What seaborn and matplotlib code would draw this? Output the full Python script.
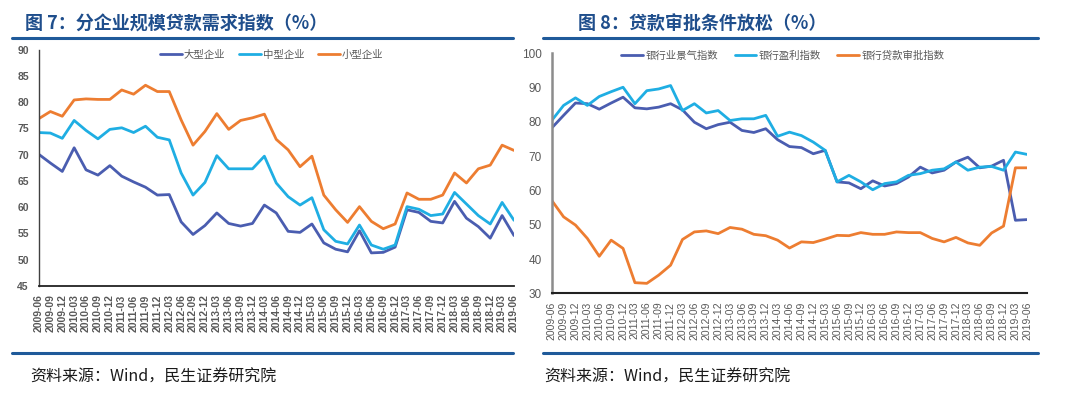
import numpy as np
import matplotlib
matplotlib.use("Agg")
import matplotlib.pyplot as plt
import seaborn as sns
from matplotlib.lines import Line2D

# quarterly observations, 2009-06 .. 2019-06
quarters = [
    "2009-06", "2009-09", "2009-12", "2010-03", "2010-06", "2010-09", "2010-12",
    "2011-03", "2011-06", "2011-09", "2011-12", "2012-03", "2012-06", "2012-09",
    "2012-12", "2013-03", "2013-06", "2013-09", "2013-12", "2014-03", "2014-06",
    "2014-09", "2014-12", "2015-03", "2015-06", "2015-09", "2015-12", "2016-03",
    "2016-06", "2016-09", "2016-12", "2017-03", "2017-06", "2017-09", "2017-12",
    "2018-03", "2018-06", "2018-09", "2018-12", "2019-03", "2019-06",
]

# Fig 7: loan demand index by firm size
large = [70.1, 68.4, 66.8, 71.3, 67.1, 66.1, 67.9, 65.9, 64.8, 63.8,
         62.3, 62.4, 57.2, 54.8, 56.5, 58.9, 56.9, 56.4, 56.9, 60.4,
         58.9, 55.4, 55.2, 56.8, 53.2, 52.0, 51.5, 55.5, 51.3, 51.4,
         52.4, 59.5, 59.0, 57.3, 57.0, 61.1, 57.9, 56.3, 54.1, 58.4, 54.6]
medium = [74.2, 74.1, 73.1, 76.5, 74.6, 73.0, 74.8, 75.1, 74.2, 75.4,
          73.3, 72.8, 66.5, 62.3, 64.7, 69.8, 67.3, 67.3, 67.3, 69.7,
          64.6, 62.0, 60.4, 61.8, 55.7, 53.5, 53.0, 56.6, 52.8, 52.0,
          52.8, 60.1, 59.6, 58.4, 58.7, 62.8, 60.6, 58.4, 56.8, 60.9, 57.5]
small = [76.8, 78.2, 77.3, 80.4, 80.6, 80.5, 80.5, 82.3, 81.5, 83.2,
         82.0, 82.0, 76.6, 71.8, 74.4, 77.8, 74.8, 76.5, 77.0, 77.7,
         72.9, 70.9, 67.7, 69.7, 62.3, 59.5, 57.1, 60.1, 57.3, 55.9,
         56.8, 62.7, 61.5, 61.5, 62.3, 66.5, 64.6, 67.3, 68.0, 71.8, 70.8]
size_names = ["大型企业", "中型企业", "小型企业"]

# Fig 8: loan approval conditions
bank_climate = [78.2, 81.9, 85.5, 85.3, 83.7, 85.5, 87.2, 84.1, 83.8, 84.3,
                85.3, 83.5, 79.9, 78.0, 79.2, 79.9, 77.5, 76.9, 78.0, 74.8,
                72.8, 72.5, 70.7, 71.7, 62.5, 62.2, 60.5, 62.8, 61.3, 62.0,
                63.9, 66.8, 65.1, 65.9, 68.3, 69.7, 66.6, 67.1, 68.8, 51.3, 51.5]
bank_profit = [80.4, 84.8, 87.0, 84.8, 87.4, 88.8, 90.1, 85.3, 89.1, 89.6,
               90.6, 83.3, 85.3, 82.6, 83.3, 80.4, 80.9, 80.9, 81.9, 75.8,
               77.0, 76.0, 74.1, 71.7, 62.5, 64.4, 62.5, 60.2, 62.0, 62.5,
               64.4, 64.9, 65.9, 66.3, 68.3, 65.9, 66.8, 67.0, 65.9, 71.2, 70.5]
loan_approval = [57.1, 52.3, 49.9, 46.0, 40.8, 45.5, 43.1, 33.1, 32.9, 35.3,
                 38.2, 45.7, 47.9, 48.2, 47.4, 49.2, 48.7, 47.2, 46.8, 45.5,
                 43.2, 45.0, 44.8, 45.8, 46.9, 46.8, 47.7, 47.2, 47.2, 47.9,
                 47.7, 47.7, 46.0, 45.0, 46.3, 44.7, 44.0, 47.6, 49.6, 66.6, 66.6]
bank_names = ["银行业景气指数", "银行盈利指数", "银行贷款审批指数"]

colors = ["#4A5DB0", "#1FAEE3", "#ED7D31"]
title_color = "#1F4E8C"
rule_color = "#1F5A9A"
tick_color = "#595959"

sns.set_style("white")
plt.rcParams["font.family"] = ["Liberation Sans", "Noto Sans CJK SC"]

W, H = 1080, 393
fig = plt.figure(figsize=(W / 100, H / 100), dpi=100)


def px_rect(x0, y0, x1, y1):
    # pixel box (top-left origin) -> figure fraction rect
    return [x0 / W, 1 - y1 / H, (x1 - x0) / W, (y1 - y0) / H]


x = np.arange(len(quarters))


def draw_panel(ax, series, names, ylim, yticks, bold, legend_x, legend_y, colsp):
    for vals, name, c in zip(series, names, colors):
        sns.lineplot(x=x, y=vals, label=name, color=c, linewidth=2.0, ax=ax)
    ax.set_xlim(0, len(quarters) - 1)
    ax.set_ylim(*ylim)
    ax.set_yticks(yticks)
    ax.set_xticks(x)
    weight = "bold" if bold else "normal"
    ax.set_xticklabels(quarters, rotation=90, fontsize=7.5, fontweight=weight, color=tick_color)
    ax.set_yticklabels([str(v) for v in yticks], fontsize=7.5 if bold else 8.5,
                       fontweight=weight, color=tick_color)
    ax.set_xlabel("")
    ax.set_ylabel("")
    ax.spines["top"].set_visible(False)
    ax.spines["right"].set_visible(False)
    ax.tick_params(axis="x", direction="out", length=4, width=1, color="#333333", pad=2)
    ax.tick_params(axis="y", direction="out", length=3, width=1, color="#555555", pad=4)
    leg = ax.legend(loc="center", bbox_to_anchor=(legend_x, legend_y), ncol=3, frameon=False,
                    fontsize=7.5, handlelength=2.1, handletextpad=0.2, columnspacing=colsp)
    for t in leg.get_texts():
        t.set_color(tick_color)
    ax.set_facecolor("white")


ax1 = fig.add_axes(px_rect(38.5, 49.5, 514, 286))
draw_panel(ax1, [large, medium, small], size_names, (45, 90), list(range(45, 91, 5)),
           True, 0.49, 0.977, 1.3)
ax1.spines["left"].set_color("#404040")
ax1.spines["left"].set_linewidth(1.0)
ax1.spines["bottom"].set_color("#222222")
ax1.spines["bottom"].set_linewidth(1.3)

ax2 = fig.add_axes(px_rect(551.7, 53.3, 1027.3, 293.3))
draw_panel(ax2, [bank_climate, bank_profit, loan_approval], bank_names, (30, 100),
           list(range(30, 101, 10)), False, 0.486, 0.989, 1.6)
ax2.spines["left"].set_color("#8C8C8C")
ax2.spines["left"].set_linewidth(1.8)
ax2.spines["bottom"].set_color("#222222")
ax2.spines["bottom"].set_linewidth(1.5)

# titles, rules and source notes
cjk = ["Noto Sans CJK SC", "DejaVu Sans"]
fig.text(25 / W, 1 - 24 / H, "图 7：分企业规模贷款需求指数（%）", fontsize=13,
         fontweight="bold", color=title_color, family=cjk, va="center")
fig.text(578 / W, 1 - 24 / H, "图 8：贷款审批条件放松（%）", fontsize=13,
         fontweight="bold", color=title_color, family=cjk, va="center")

for x0, x1 in [(12, 513), (543, 1038)]:
    for yy in (38.3, 353):
        fig.add_artist(Line2D([x0 / W, x1 / W], [1 - yy / H, 1 - yy / H],
                              transform=fig.transFigure, color=rule_color, linewidth=2.2))

fig.text(30 / W, 1 - 377 / H, "资料来源：Wind，民生证券研究院", fontsize=11.5,
         color="#1A1A1A", family=cjk, va="center")
fig.text(544 / W, 1 - 377 / H, "资料来源：Wind，民生证券研究院", fontsize=11.5,
         color="#1A1A1A", family=cjk, va="center")

fig.savefig("out.png", dpi=100, facecolor="white")
